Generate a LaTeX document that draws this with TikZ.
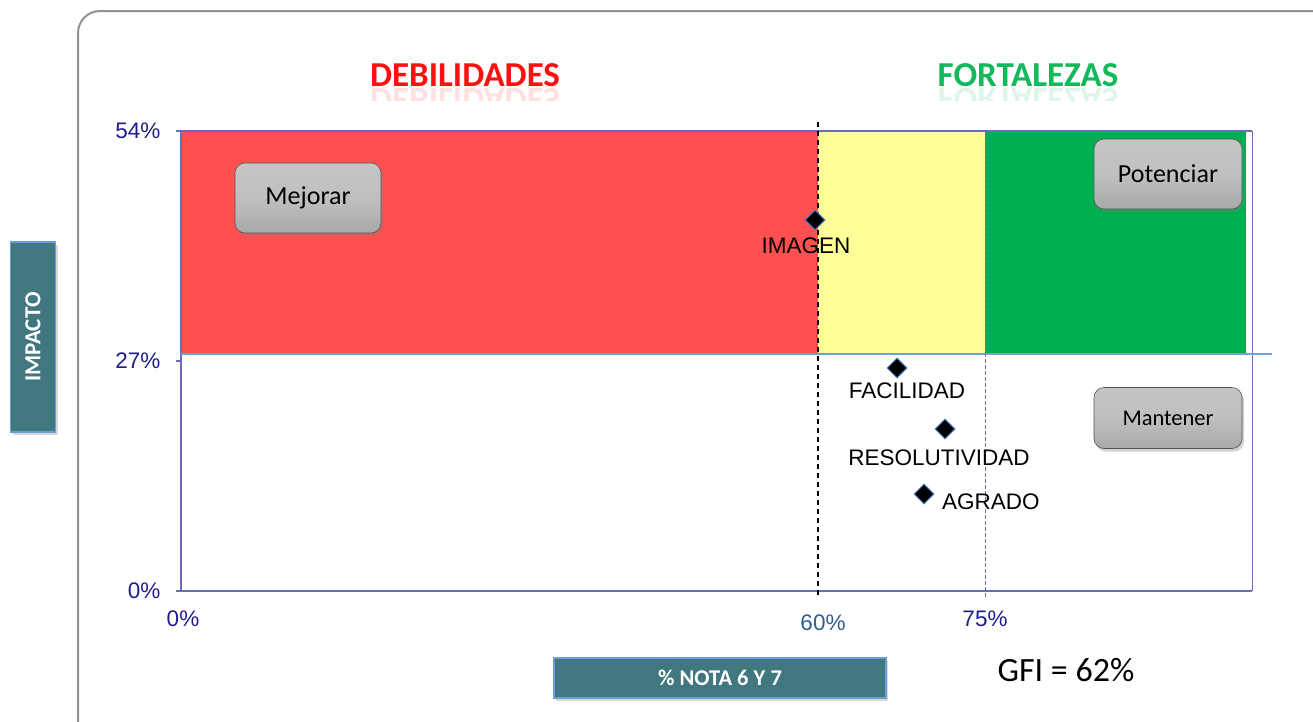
\documentclass[tikz,border=0pt]{standalone}
\usepackage{fontspec}
\setmainfont{Liberation Sans}
\newfontfamily\calfont{Carlito}
\usetikzlibrary{shapes.geometric,shadows}
\definecolor{axisblue}{HTML}{6B6BB8}
\definecolor{labnavy}{HTML}{1F1F8A}
\definecolor{labsteel}{HTML}{2F5F8F}
\definecolor{quadred}{HTML}{FF5050}
\definecolor{quadyellow}{HTML}{FFFF99}
\definecolor{quadgreen}{HTML}{00B050}
\definecolor{midline}{HTML}{6FA0D8}
\definecolor{tealbox}{HTML}{41777F}
\definecolor{tealedge}{HTML}{6A9FD4}
\definecolor{btntop}{HTML}{C4C4C4}
\definecolor{btnbottom}{HTML}{A8A8A8}
\definecolor{markedge}{HTML}{4A7CC4}
\definecolor{headred}{HTML}{FF1010}
\definecolor{headgreen}{HTML}{12B85A}
\tikzset{
  axisline/.style={axisblue, line width=1.2pt},
  ticklab/.style={text=labnavy, font=\fontsize{22.5}{26}\selectfont},
  button/.style={draw=gray!65!black, line width=0.6pt, top color=btntop, bottom color=btnbottom,
    middle color=btntop!85!btnbottom,
    rounded corners=10pt, drop shadow={shadow xshift=2pt, shadow yshift=-3pt, opacity=0.35},
    font=\calfont\fontsize{26}{30}\selectfont, inner sep=0pt},
  axisbox/.style={draw=tealedge, line width=1.5pt, fill=tealbox, text=white,
    drop shadow={shadow xshift=2pt, shadow yshift=-3pt, opacity=0.3},
    font=\calfont\bfseries\fontsize{22.5}{26}\selectfont, inner sep=0pt},
  marker/.style={diamond, draw=markedge, fill=black, line width=1pt,
    minimum width=20pt, minimum height=20pt, inner sep=0pt},
  ptlab/.style={font=\fontsize{22.5}{26}\selectfont, inner sep=0pt},
  heading/.style={font=\calfont\bfseries\fontsize{35}{40}\selectfont, inner sep=0pt},
}
\begin{document}
\begin{tikzpicture}[x=1pt, y=-1pt]
\useasboundingbox (0,0) rectangle (1313,721);
\clip (0,0) rectangle (1313,721);
\fill[white] (0,0) rectangle (1313,721);

% outer frame
\draw[gray!85, line width=2pt, rounded corners=22pt] (78,760) -- (78,11) -- (1360,11);

% quadrant fills
\fill[quadred] (181,131) rectangle (818,353);
\fill[quadyellow] (818,131) rectangle (985,353);
\fill[quadgreen] (985,131) rectangle (1246,353);

% plot frame and axes
\draw[axisline] (181,131) -- (1252,131);
\draw[axisblue, line width=0.8pt] (1252,131) -- (1252,591);
\draw[axisline] (181,131) -- (181,591) -- (1252,591);
\draw[midline, line width=1.5pt] (181,354) -- (1272,354);
\foreach \yy in {131,361,591} \draw[axisline] (176,\yy) -- (181,\yy);
\draw[black, line width=1.4pt, dash pattern=on 5pt off 4pt] (818,122) -- (818,598);
\draw[axisblue, line width=0.8pt, dash pattern=on 4pt off 2pt] (985,131) -- (985,599);

% tick labels
\node[ticklab, anchor=east] (y54) at (164,131) {54\%};
\node[ticklab, anchor=east] (y27) at (164,361) {27\%};
\node[ticklab, anchor=east] (y0) at (164,591) {0\%};
\node[ticklab] (x0) at (183,619) {0\%};
\node[ticklab, text=labsteel] (x60) at (823,623) {60\%};
\node[ticklab] (x75) at (985,619) {75\%};

% headings with faded reflections
\node[heading, text=headred] (deb) at (465,75) {DEBILIDADES};
\node[heading, text=headgreen] (fort) at (1028,75) {FORTALEZAS};
\begin{scope}
  \clip (340,88) rectangle (1200,100);
  \node[heading, text=headred, opacity=0.13, yscale=-1] (debr) at (465,100) {DEBILIDADES};
  \node[heading, text=headgreen, opacity=0.13, yscale=-1] (fortr) at (1028,100) {FORTALEZAS};
\end{scope}

% action buttons
\node[button, minimum width=146pt, minimum height=70pt] (mejorar) at (308,198) {Mejorar};
\node[button, minimum width=148pt, minimum height=70pt] (potenciar) at (1168,174) {Potenciar};
\node[button, minimum width=148pt, minimum height=61pt, font=\calfont\fontsize{22.5}{26}\selectfont] (mantener) at (1168,418) {Mantener};

% axis title boxes
\node[axisbox, minimum width=45pt, minimum height=190pt] (impacto) at (33,337) {};
\node[text=white, font=\calfont\bfseries\fontsize{23}{26}\selectfont, rotate=90] (impactolab) at (impacto.center) {IMPACTO};
\node[axisbox, minimum width=332pt, minimum height=40pt] (nota) at (720,678) {\% NOTA 6 Y 7};

% GFI summary
\node[font=\calfont\fontsize{34}{40}\selectfont, inner sep=0pt] (gfi) at (1066,670) {GFI = 62\%};

% data points
\node[marker] (pimagen) at (815,220) {};
\node[marker] (pfacil) at (897,368) {};
\node[marker] (presol) at (945,429) {};
\node[marker] (pagrado) at (924,494) {};
\node[ptlab] (limagen) at (806,246) {IMAGEN};
\node[ptlab] (lfacil) at (907,391) {FACILIDAD};
\node[ptlab] (lresol) at (939,458) {RESOLUTIVIDAD};
\node[ptlab, anchor=west] (lagrado) at (942,502) {AGRADO};
\end{tikzpicture}
\end{document}
